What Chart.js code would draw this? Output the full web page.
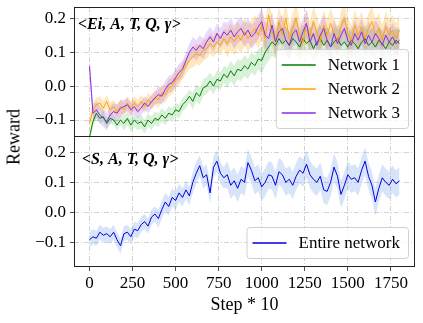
<!DOCTYPE html>
<html>
<head>
<meta charset="utf-8">
<script src="https://cdn.jsdelivr.net/npm/chart.js@4.4.1/dist/chart.umd.min.js"></script>
<style>
  html, body { margin: 0; padding: 0; background: #fff; }
  #wrap { position: relative; width: 423px; height: 323px; font-family: "Liberation Serif", serif; }
  #topBox { position: absolute; left: 0; top: 0; width: 423px; height: 140px; }
  #botBox { position: absolute; left: 0; top: 136px; width: 423px; height: 187px; }
  #ylab { position: absolute; left: 14px; top: 137px; transform: translate(-50%, -50%) rotate(-90deg);
          font-size: 18px; color: #000; white-space: nowrap; }
</style>
</head>
<body>
<div id="wrap">
  <div id="topBox"><canvas id="topChart"></canvas></div>
  <div id="botBox"><canvas id="botChart"></canvas></div>
  <div id="ylab">Reward</div>
</div>
<script>
// x positions (Step * 10)
const steps = [
  0, 20, 40, 60, 80, 100, 120, 140, 160, 180,
  200, 220, 240, 260, 280, 300, 320, 340, 360, 380,
  400, 420, 440, 460, 480, 500, 520, 540, 560, 580,
  600, 620, 640, 660, 680, 700, 720, 740, 760, 780,
  800, 820, 840, 860, 880, 900, 920, 940, 960, 980,
  1000, 1020, 1040, 1060, 1080, 1100, 1120, 1140, 1160, 1180,
  1200, 1220, 1240, 1260, 1280, 1300, 1320, 1340, 1360, 1380,
  1400, 1420, 1440, 1460, 1480, 1500, 1520, 1540, 1560, 1580,
  1600, 1620, 1640, 1660, 1680, 1700, 1720, 1740, 1760, 1780,
  1800
];
const xTicks = [0, 250, 500, 750, 1000, 1250, 1500, 1750];
const yTicks = [-0.1, 0.0, 0.1, 0.2];

// <Ei, A, T, Q, γ>
const net1 = [
  -0.15, -0.105, -0.08, -0.095, -0.09, -0.11, -0.095, -0.1, -0.115, -0.1,
  -0.11, -0.095, -0.115, -0.1, -0.11, -0.105, -0.12, -0.1, -0.11, -0.095,
  -0.1, -0.085, -0.095, -0.08, -0.085, -0.07, -0.075, -0.055, -0.045, -0.03,
  -0.045, -0.02, -0.03, -0.005, 0.0, 0.015, 0.0, 0.02, 0.015, 0.035,
  0.025, 0.045, 0.03, 0.05, 0.045, 0.06, 0.05, 0.07, 0.06, 0.08,
  0.075, 0.1, 0.115, 0.13, 0.12, 0.14, 0.125, 0.135, 0.12, 0.14,
  0.13, 0.115, 0.14, 0.125, 0.135, 0.11, 0.13, 0.14, 0.12, 0.135,
  0.115, 0.13, 0.14, 0.12, 0.13, 0.115, 0.135, 0.125, 0.11, 0.13,
  0.14, 0.12, 0.13, 0.115, 0.135, 0.125, 0.11, 0.13, 0.12, 0.135,
  0.125
];
const net2 = [
  -0.11, -0.07, -0.055, -0.05, -0.065, -0.045, -0.07, -0.06, -0.075, -0.06,
  -0.07, -0.05, -0.065, -0.05, -0.06, -0.045, -0.06, -0.04, -0.05, -0.035,
  -0.04, -0.02, -0.025, -0.005, 0.0, 0.02, 0.025, 0.045, 0.06, 0.075,
  0.085, 0.095, 0.09, 0.105, 0.11, 0.125, 0.115, 0.13, 0.12, 0.14,
  0.125, 0.145, 0.13, 0.15, 0.135, 0.16, 0.14, 0.155, 0.17, 0.15,
  0.18, 0.14, 0.21, 0.16, 0.13, 0.19, 0.15, 0.2, 0.14, 0.17,
  0.2, 0.15, 0.13, 0.18, 0.145, 0.19, 0.16, 0.13, 0.18, 0.15,
  0.185, 0.155, 0.13, 0.175, 0.2, 0.155, 0.135, 0.18, 0.15, 0.175,
  0.14, 0.17, 0.19, 0.15, 0.17, 0.135, 0.175, 0.15, 0.165, 0.14,
  0.165
];
const net3 = [
  0.06, -0.08, -0.07, -0.085, -0.095, -0.105, -0.085, -0.075, -0.08, -0.065,
  -0.06, -0.055, -0.07, -0.06, -0.075, -0.065, -0.05, -0.06, -0.045, -0.035,
  -0.025, -0.03, -0.01, 0.005, 0.01, 0.025, 0.04, 0.05, 0.075, 0.1,
  0.115, 0.105, 0.12, 0.11, 0.13, 0.145, 0.13, 0.155, 0.14, 0.16,
  0.15, 0.165, 0.145, 0.16, 0.17, 0.15, 0.165, 0.145, 0.155, 0.175,
  0.19, 0.15, 0.14, 0.18, 0.13, 0.16, 0.17, 0.135, 0.12, 0.155,
  0.165, 0.13, 0.16, 0.185, 0.13, 0.155, 0.12, 0.15, 0.17, 0.135,
  0.115, 0.155, 0.125, 0.15, 0.17, 0.135, 0.12, 0.155, 0.135, 0.16,
  0.125, 0.15, 0.13, 0.155, 0.14, 0.12, 0.15, 0.13, 0.145, 0.125,
  0.135
];
// <S, A, T, Q, γ>
const entire = [
  -0.09, -0.08, -0.085, -0.065, -0.075, -0.07, -0.08, -0.065, -0.09, -0.11,
  -0.07, -0.065, -0.08, -0.055, -0.06, -0.04, -0.03, -0.045, -0.015, -0.005,
  -0.02, 0.01, 0.035, 0.02, 0.05, 0.04, 0.065, 0.05, 0.075, 0.055,
  0.1, 0.13, 0.155, 0.115, 0.125, 0.065, 0.15, 0.17, 0.13, 0.115,
  0.125, 0.09, 0.105, 0.08, 0.11, 0.1, 0.165, 0.14, 0.105, 0.115,
  0.085, 0.1, 0.125, 0.12, 0.09, 0.135, 0.125, 0.1, 0.11, 0.09,
  0.12, 0.14, 0.13, 0.16, 0.125, 0.11, 0.1, 0.12, 0.075, 0.07,
  0.1, 0.15, 0.12, 0.06, 0.09, 0.125, 0.11, 0.115, 0.1, 0.14,
  0.17, 0.12, 0.09, 0.035, 0.08, 0.115, 0.1, 0.09, 0.11, 0.095,
  0.105
];

// half-width of the shaded band, one value per 200 steps
const net1Spread = [0.015, 0.02, 0.02, 0.025, 0.03, 0.04, 0.04, 0.04, 0.04, 0.04];
const net2Spread = [0.02, 0.02, 0.025, 0.03, 0.04, 0.045, 0.045, 0.045, 0.045, 0.045];
const net3Spread = [0.025, 0.02, 0.025, 0.03, 0.035, 0.04, 0.04, 0.04, 0.04, 0.04];
const entireSpread = [0.025, 0.025, 0.03, 0.035, 0.045, 0.045, 0.045, 0.045, 0.045, 0.045];

const FONT = '"Liberation Serif", serif';

function line(vals) {
  return vals.map((v, i) => ({ x: steps[i], y: v }));
}
function band(vals, spread, sign) {
  return vals.map((v, i) => ({ x: steps[i], y: v + sign * spread[Math.floor(i / 10)] }));
}
function seriesSets(label, vals, spread, color, fillColor, order) {
  return [
    { label: label, data: line(vals), borderColor: color, borderWidth: 1,
      pointRadius: 0, fill: false, order: order },
    { label: label + ' band', isBand: true, data: band(vals, spread, 1), borderWidth: 0,
      borderColor: 'transparent', pointRadius: 0, backgroundColor: fillColor, fill: '+1', order: order + 10 },
    { label: label + ' low', isBand: true, data: band(vals, spread, -1), borderWidth: 0,
      borderColor: 'transparent', pointRadius: 0, fill: false, order: order + 10 }
  ];
}

function makeScales(yMin, yMax, showX) {
  return {
    x: {
      type: 'linear', min: -90, max: 1890,
      afterBuildTicks: s => { s.ticks = xTicks.map(v => ({ value: v })); },
      afterFit: s => { s.height = showX ? 56 : 3; s.paddingLeft = 0; s.paddingRight = 0; },
      grid: { color: '#c8c8c8', lineWidth: 0.8, tickLength: 4, tickColor: '#222', drawTicks: showX },
      border: { display: false, dash: [5, 2, 1, 2] },
      ticks: { display: showX, autoSkip: false, maxRotation: 0, color: '#000',
               font: { family: FONT, size: 17 }, padding: 2,
               callback: v => String(v) },
      title: { display: showX, text: 'Step * 10', color: '#000',
               font: { family: FONT, size: 18 }, padding: { top: 0, bottom: 7 } }
    },
    y: {
      min: yMin, max: yMax,
      afterBuildTicks: s => { s.ticks = yTicks.map(v => ({ value: v })); },
      afterFit: s => { s.width = 74; s.paddingTop = 0; s.paddingBottom = 0; },
      grid: { color: '#c8c8c8', lineWidth: 0.8, tickLength: 4, tickColor: '#222' },
      border: { display: false, dash: [5, 2, 1, 2] },
      ticks: { color: '#000', font: { family: FONT, size: 17 }, padding: 4,
               callback: v => v.toFixed(1).replace('-', '\u2212') }
    }
  };
}

const framePlugin = {
  id: 'frame',
  afterDraw(chart) {
    const a = chart.chartArea, c = chart.ctx;
    c.save();
    c.strokeStyle = '#222';
    c.lineWidth = 1;
    c.strokeRect(a.left + 0.5, a.top + 0.5, a.right - a.left - 1, a.bottom - a.top - 1);

    // tag text
    const tag = chart.options.plugins.tag;
    c.fillStyle = '#000';
    c.font = 'bold italic 16px ' + FONT;
    c.textBaseline = 'middle';
    c.fillText(tag.text, a.left + tag.dx, a.top + tag.dy);

    // legend box in the lower right corner
    const items = chart.data.datasets.filter(d => !d.isBand);
    c.font = '17px ' + FONT;
    const textW = Math.max(...items.map(d => c.measureText(d.label).width));
    const rowH = 24;
    const boxW = 52 + textW + 8;
    const boxH = 8 + rowH * items.length - 1;
    const bx = a.right - 7 - boxW, by = a.bottom - 9 - boxH;
    c.beginPath();
    c.roundRect(bx + 0.5, by + 0.5, boxW, boxH, 3);
    c.fillStyle = 'rgba(255,255,255,0.8)';
    c.fill();
    c.strokeStyle = '#d0d0d0';
    c.stroke();
    items.forEach((d, i) => {
      const cy = by + 16 + i * rowH;
      c.beginPath();
      c.moveTo(bx + 6, cy);
      c.lineTo(bx + 40, cy);
      c.strokeStyle = d.borderColor;
      c.lineWidth = 1.5;
      c.stroke();
      c.fillStyle = '#000';
      c.textBaseline = 'middle';
      c.fillText(d.label, bx + 52, cy + 1);
    });
    c.restore();
  }
};

new Chart(document.getElementById('topChart'), {
  type: 'line',
  data: {
    datasets: [
      ...seriesSets('Network 1', net1, net1Spread, '#008000', 'rgba(0,160,0,0.15)', 2),
      ...seriesSets('Network 2', net2, net2Spread, '#ffa500', 'rgba(255,165,0,0.25)', 1),
      ...seriesSets('Network 3', net3, net3Spread, '#8a2be2', 'rgba(138,43,226,0.18)', 0)
    ]
  },
  options: {
    responsive: true,
    maintainAspectRatio: false,
    animation: false,
    layout: { padding: { top: 7, right: 8, left: 0, bottom: 0 } },
    plugins: {
      legend: { display: false },
      tooltip: { enabled: false },
      tag: { text: '<Ei, A, T, Q, \u03b3>', dx: 4, dy: 18 }
    },
    scales: makeScales(-0.15, 0.233, false)
  },
  plugins: [framePlugin]
});

new Chart(document.getElementById('botChart'), {
  type: 'line',
  data: {
    datasets: [
      ...seriesSets('Entire network', entire, entireSpread, '#0000e0', 'rgba(100,149,237,0.25)', 0)
    ]
  },
  options: {
    responsive: true,
    maintainAspectRatio: false,
    animation: false,
    layout: { padding: { top: 0, right: 8, left: 0, bottom: 0 } },
    plugins: {
      legend: { display: false },
      tooltip: { enabled: false },
      tag: { text: '<S, A, T, Q, \u03b3>', dx: 8, dy: 24 }
    },
    scales: makeScales(-0.18, 0.253, true)
  },
  plugins: [framePlugin]
});
</script>
</body>
</html>
